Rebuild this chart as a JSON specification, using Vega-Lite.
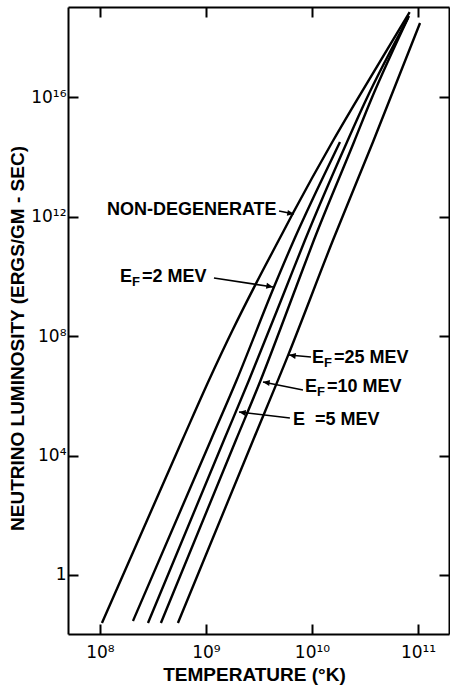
{
  "$schema": "https://vega.github.io/schema/vega-lite/v6.json",
  "width": 381,
  "height": 627,
  "autosize": "none",
  "padding": {"left": 68, "top": 7, "right": 1, "bottom": 52},
  "background": "white",
  "config": {
    "view": {"stroke": null},
    "font": "Liberation Sans",
    "axis": {
      "domainColor": "black",
      "domainWidth": 2,
      "tickColor": "black",
      "tickWidth": 2,
      "tickSize": -10,
      "grid": false,
      "labelColor": "black",
      "labelFont": "DejaVu Sans",
      "labelFontSize": 17,
      "titleColor": "black",
      "titleFont": "Liberation Sans",
      "titleFontSize": 19,
      "titleFontWeight": "bold",
      "labelOverlap": false,
      "labelFlush": false
    }
  },
  "datasets": {
    "curves": [
      {"curve": "nondeg", "T": 1.045e8, "L": 0.0247},
      {"curve": "nondeg", "T": 5.99e8, "L": 3.33e4},
      {"curve": "nondeg", "T": 1.07e9, "L": 3.41e6},
      {"curve": "nondeg", "T": 1.78e9, "L": 1.58e8},
      {"curve": "nondeg", "T": 2.92e9, "L": 5.23e9},
      {"curve": "nondeg", "T": 4.87e9, "L": 1.67e11},
      {"curve": "nondeg", "T": 6.63e9, "L": 1.34e12},
      {"curve": "nondeg", "T": 1.555e10, "L": 3.21e14},
      {"curve": "nondeg", "T": 2.65e10, "L": 8.18e15},
      {"curve": "nondeg", "T": 8.35e10, "L": 7.26e18},
      {"curve": "EF2", "T": 2.05e8, "L": 0.0288},
      {"curve": "EF2", "T": 1.114e9, "L": 3.33e4},
      {"curve": "EF2", "T": 1.95e9, "L": 3.41e6},
      {"curve": "EF2", "T": 4.38e9, "L": 4.45e9},
      {"curve": "EF2", "T": 6.76e9, "L": 1.67e11},
      {"curve": "EF2", "T": 1.114e10, "L": 7.91e12},
      {"curve": "EF2", "T": 1.837e10, "L": 3.21e14},
      {"curve": "EF5", "T": 2.84e8, "L": 0.0247},
      {"curve": "EF5", "T": 1.479e9, "L": 3.33e4},
      {"curve": "EF5", "T": 2.55e9, "L": 3.41e6},
      {"curve": "EF5", "T": 5.73e9, "L": 4.45e9},
      {"curve": "EF5", "T": 8.6e9, "L": 1.67e11},
      {"curve": "EF5", "T": 2.14e10, "L": 3.21e14},
      {"curve": "EF5", "T": 3.23e10, "L": 8.18e15},
      {"curve": "EF5", "T": 8.05e10, "L": 4.57e18},
      {"curve": "EF10", "T": 3.76e8, "L": 0.0247},
      {"curve": "EF10", "T": 1.919e9, "L": 3.33e4},
      {"curve": "EF10", "T": 3.23e9, "L": 2.92e6},
      {"curve": "EF10", "T": 7.09e9, "L": 4.45e9},
      {"curve": "EF10", "T": 1.043e10, "L": 1.67e11},
      {"curve": "EF10", "T": 2.49e10, "L": 3.21e14},
      {"curve": "EF10", "T": 3.6e10, "L": 8.18e15},
      {"curve": "EF10", "T": 8.22e10, "L": 5.33e18},
      {"curve": "EF25", "T": 5.44e8, "L": 0.0247},
      {"curve": "EF25", "T": 2.79e9, "L": 3.33e4},
      {"curve": "EF25", "T": 5.99e9, "L": 2.42e7},
      {"curve": "EF25", "T": 1.58e10, "L": 1.67e11},
      {"curve": "EF25", "T": 3.76e10, "L": 3.21e14},
      {"curve": "EF25", "T": 1.045e11, "L": 3.1e18}
    ],
    "arrows": [
      {"T": 4.89e9, "L": 1.56e12, "T2": 6.76e9, "L2": 1.24e12, "dir": "right"},
      {"T": 1.19e9, "L": 8.91e9, "T2": 4.29e9, "L2": 4.45e9, "dir": "right"},
      {"T": 9.79e9, "L": 2.01e7, "T2": 6.07e9, "L2": 2.35e7, "dir": "left"},
      {"T": 8.22e9, "L": 1.58e6, "T2": 3.45e9, "L2": 2.92e6, "dir": "left"},
      {"T": 6.19e9, "L": 1.82e5, "T2": 2.05e9, "L2": 2.89e5, "dir": "left"}
    ],
    "labels": [
      {"T": 1.164e8, "L": 1.69e12, "head": "NON-DEGENERATE", "sub": "", "rest": ""},
      {"T": 1.545e8, "L": 9.62e9, "head": "E", "sub": "F", "rest": "=2 MEV"},
      {"T": 1.0e10, "L": 1.86e7, "head": "E", "sub": "F", "rest": "=25 MEV"},
      {"T": 8.6e9, "L": 1.99e6, "head": "E", "sub": "F", "rest": "=10 MEV"},
      {"T": 6.62e9, "L": 1.56e5, "head": "E", "sub": "", "rest": "=5 MEV"}
    ]
  },
  "layer": [
    {
      "data": {"name": "curves"},
      "mark": {"type": "line", "color": "black", "strokeWidth": 2.4, "interpolate": "monotone"},
      "encoding": {
        "x": {
          "field": "T", "type": "quantitative",
          "scale": {"type": "log", "domain": [5e7, 1.96e11], "nice": false},
          "axis": {
            "orient": "bottom",
            "values": [1e8, 1e9, 1e10, 1e11],
            "labelExpr": "datum.value == 1e8 ? '10⁸' : datum.value == 1e9 ? '10⁹' : datum.value == 1e10 ? '10¹⁰' : '10¹¹'",
            "labelPadding": 20,
            "title": "TEMPERATURE (°K)",
            "titleX": 186,
            "titleY": 31
          }
        },
        "y": {
          "field": "L", "type": "quantitative",
          "scale": {"type": "log", "domain": [0.01055, 1.07e19], "nice": false},
          "axis": {
            "orient": "left",
            "values": [1, 1e4, 1e8, 1e12, 1e16],
            "labelExpr": "datum.value == 1 ? '1' : datum.value == 1e4 ? '10⁴' : datum.value == 1e8 ? '10⁸' : datum.value == 1e12 ? '10¹²' : '10¹⁶'",
            "labelPadding": 12,
            "title": "NEUTRINO LUMINOSITY (ERGS/GM - SEC)",
            "titleX": -41,
            "titleY": 331
          }
        },
        "detail": {"field": "curve"}
      }
    },
    {
      "data": {"name": "curves"},
      "mark": {"type": "line", "opacity": 0},
      "encoding": {
        "x": {
          "field": "T", "type": "quantitative",
          "axis": {"orient": "top", "values": [1e8, 1e9, 1e10, 1e11], "labels": false, "title": null}
        },
        "y": {
          "field": "L", "type": "quantitative",
          "axis": {"orient": "right", "values": [1, 1e4, 1e8, 1e12, 1e16], "labels": false, "title": null}
        },
        "detail": {"field": "curve"}
      }
    },
    {
      "data": {"name": "arrows"},
      "mark": {"type": "rule", "color": "black", "strokeWidth": 1.6},
      "encoding": {
        "x": {"field": "T", "type": "quantitative", "axis": null},
        "y": {"field": "L", "type": "quantitative", "axis": null},
        "x2": {"field": "T2"},
        "y2": {"field": "L2"}
      }
    },
    {
      "data": {"name": "arrows"},
      "transform": [{"filter": "datum.dir == 'right'"}],
      "mark": {"type": "point", "shape": "M0,0L-1,-0.45L-1,0.45Z", "filled": true, "color": "black", "opacity": 1, "size": 180, "angle": 10},
      "encoding": {
        "x": {"field": "T2", "type": "quantitative", "axis": null},
        "y": {"field": "L2", "type": "quantitative", "axis": null}
      }
    },
    {
      "data": {"name": "arrows"},
      "transform": [{"filter": "datum.dir == 'left'"}],
      "mark": {"type": "point", "shape": "M0,0L-1,-0.45L-1,0.45Z", "filled": true, "color": "black", "opacity": 1, "size": 180, "angle": 188},
      "encoding": {
        "x": {"field": "T2", "type": "quantitative", "axis": null},
        "y": {"field": "L2", "type": "quantitative", "axis": null}
      }
    },
    {
      "data": {"name": "labels"},
      "mark": {"type": "text", "align": "left", "baseline": "middle", "fontSize": 18, "fontWeight": "bold", "color": "black"},
      "encoding": {
        "x": {"field": "T", "type": "quantitative", "axis": null},
        "y": {"field": "L", "type": "quantitative", "axis": null},
        "text": {"field": "head"}
      }
    },
    {
      "data": {"name": "labels"},
      "mark": {"type": "text", "align": "left", "baseline": "middle", "fontSize": 13, "fontWeight": "bold", "dx": 12, "dy": 5, "color": "black"},
      "encoding": {
        "x": {"field": "T", "type": "quantitative", "axis": null},
        "y": {"field": "L", "type": "quantitative", "axis": null},
        "text": {"field": "sub"}
      }
    },
    {
      "data": {"name": "labels"},
      "mark": {"type": "text", "align": "left", "baseline": "middle", "fontSize": 18, "fontWeight": "bold", "dx": 22, "color": "black"},
      "encoding": {
        "x": {"field": "T", "type": "quantitative", "axis": null},
        "y": {"field": "L", "type": "quantitative", "axis": null},
        "text": {"field": "rest"}
      }
    }
  ],
  "resolve": {"axis": {"x": "independent", "y": "independent"}}
}
